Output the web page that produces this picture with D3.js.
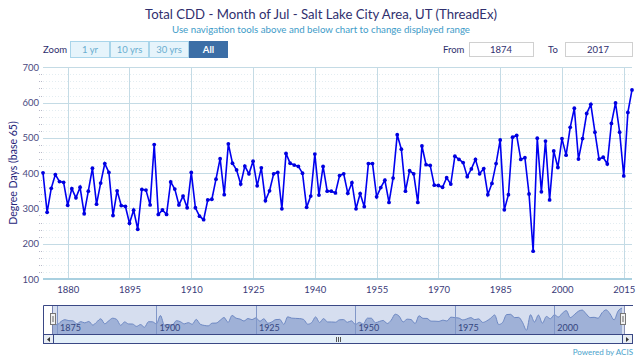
<!DOCTYPE html>
<html><head><meta charset="utf-8">
<script src="https://cdn.jsdelivr.net/npm/d3@7"></script>
<style>
html,body{margin:0;padding:0;background:#fff;}
svg{display:block;font-family:Lato,"Liberation Sans",sans-serif;}
</style></head>
<body>
<svg id="c" width="640" height="359"></svg>
<script>
const startYear = 1874;
const cdd = [401,289,357,396,376,374,309,356,330,360,285,349,414,312,372,427,402,280,350,308,
306,258,295,241,354,352,310,481,283,296,283,375,355,310,335,302,402,302,278,268,
324,326,383,441,339,483,428,409,369,420,398,434,364,415,322,350,398,402,299,456,
428,423,419,400,303,335,454,338,419,349,349,344,393,398,343,373,299,342,305,427,
427,333,359,380,317,386,509,468,349,407,398,317,477,424,422,366,365,360,387,369,
448,439,430,390,412,439,398,413,339,371,427,494,296,339,502,507,439,444,341,179,
499,347,491,324,463,416,498,451,530,584,440,498,569,595,516,440,445,426,541,599,
516,392,572,636];
const years = cdd.map((d,i)=>startYear+i);
const xTicks = [1880,1895,1910,1925,1940,1955,1970,1985,2000,2015];
const yTicks = [100,200,300,400,500,600,700];
const navTicks = [1875,1900,1925,1950,1975,2000];
const zoomButtons = ["1 yr","10 yrs","30 yrs","All"];
const titleText = "Total CDD - Month of Jul - Salt Lake City Area, UT (ThreadEx)";
const subtitleText = "Use navigation tools above and below chart to change displayed range";

const data = years.map((y,i)=>({year:y, v:cdd[i]}));
const svg = d3.select("#c");

// Title
svg.append("text").attr("x",321).attr("y",19).attr("text-anchor","middle")
  .attr("font-size",13).attr("fill","#2f2f6e")
  .attr("textLength",352).attr("lengthAdjust","spacingAndGlyphs").text(titleText);
svg.append("text").attr("x",321).attr("y",33).attr("text-anchor","middle")
  .attr("font-size",9.5).attr("fill","#3e9bc8")
  .attr("textLength",298).attr("lengthAdjust","spacingAndGlyphs").text(subtitleText);

// Zoom buttons
svg.append("text").attr("x",43).attr("y",53).attr("font-size",9.5).attr("fill","#2f2f6e").text("Zoom");
const bx = [70,110,149,189], bw=[40,39,40,39];
zoomButtons.forEach((b,i)=>{
  const sel = i===3;
  svg.append("rect").attr("x",bx[i]+0.5).attr("y",41.5).attr("width",bw[i]-1).attr("height",16)
    .attr("fill",sel?"#3c6ea6":"#e6f4fb").attr("stroke",sel?"#3c6ea6":"#a9d5ea");
  svg.append("text").attr("x",bx[i]+bw[i]/2).attr("y",53).attr("text-anchor","middle")
    .attr("font-size",9.5).attr("font-weight",sel?"bold":"normal")
    .attr("fill",sel?"#ffffff":"#6aaed0").text(b);
});
// From / To
svg.append("text").attr("x",443).attr("y",53).attr("font-size",9.5).attr("fill","#2f2f6e").text("From");
svg.append("rect").attr("x",469.5).attr("y",42.5).attr("width",64).attr("height",14).attr("fill","#fff").attr("stroke","#d0d0d0");
svg.append("text").attr("x",501).attr("y",53).attr("text-anchor","middle").attr("font-size",9.5).attr("fill","#2f2f6e").text(years[0]);
svg.append("text").attr("x",548).attr("y",53).attr("font-size",9.5).attr("fill","#2f2f6e").text("To");
svg.append("rect").attr("x",565.5).attr("y",42.5).attr("width",67).attr("height",14).attr("fill","#fff").attr("stroke","#d0d0d0");
svg.append("text").attr("x",598).attr("y",53).attr("text-anchor","middle").attr("font-size",9.5).attr("fill","#2f2f6e").text(years[years.length-1]);

// Scales
const x = d3.scaleLinear().domain([startYear, years[years.length-1]]).range([43,632]);
const y = d3.scaleLinear().domain([100,700]).range([279,67.3]);

// Minor grid
const minor = d3.range(100,700,20).filter(v=>v%100!==0);
svg.append("g").selectAll("line").data(minor).join("line")
  .attr("x1",43).attr("x2",632).attr("y1",d=>Math.round(y(d))+0.5).attr("y2",d=>Math.round(y(d))+0.5)
  .attr("stroke","#e3edf1").attr("stroke-dasharray","1,2");
svg.append("g").selectAll("line").data(minor).join("line")
  .attr("x1",39).attr("x2",42).attr("y1",d=>Math.round(y(d))+0.5).attr("y2",d=>Math.round(y(d))+0.5)
  .attr("stroke","#b8b8c8").attr("stroke-dasharray","1,1");

// Major grid horizontal
svg.append("g").selectAll("line").data(yTicks.filter(d=>d!==100)).join("line")
  .attr("x1",43).attr("x2",632).attr("y1",d=>Math.round(y(d))+0.5).attr("y2",d=>Math.round(y(d))+0.5)
  .attr("stroke","#c4dbe5");
// vertical grid
svg.append("g").selectAll("line").data(xTicks).join("line")
  .attr("x1",d=>Math.round(x(d))+0.5).attr("x2",d=>Math.round(x(d))+0.5).attr("y1",67).attr("y2",279)
  .attr("stroke","#c4dbe5");

// Y axis
const yAxis = svg.append("g").attr("transform","translate(41,0)")
  .call(d3.axisLeft(y).tickValues(yTicks).tickSize(0).tickPadding(2));
yAxis.select(".domain").remove();
yAxis.selectAll("text").attr("font-size",9.5).attr("fill","#4a4a80").attr("font-family","Lato,sans-serif");
svg.append("text").attr("transform","translate(17,173) rotate(-90)").attr("text-anchor","middle")
  .attr("font-size",10.5).attr("fill","#25257a").text("Degree Days (base 65)");

// X axis
svg.append("line").attr("x1",43).attr("x2",632).attr("y1",279).attr("y2",279).attr("stroke","#a9d0e0").attr("stroke-width",2);
const xAxis = svg.append("g").attr("transform","translate(0,280)")
  .call(d3.axisBottom(x).tickValues(xTicks).tickFormat(d3.format("d")).tickSize(0).tickPadding(6));
xAxis.select(".domain").remove();
xAxis.selectAll("text").attr("font-size",9.5).attr("fill","#3a3a78").attr("font-family","Lato,sans-serif");

// Series
const line = d3.line().x(d=>x(d.year)).y(d=>y(d.v));
svg.append("path").datum(data).attr("d",line).attr("fill","none").attr("stroke","#0000f0").attr("stroke-width",1.6);
svg.append("g").selectAll("circle").data(data).join("circle")
  .attr("cx",d=>x(d.year)).attr("cy",d=>y(d.v)).attr("r",1.9).attr("fill","#0000e0");

// Navigator
const xn = d3.scaleLinear().domain([startYear, years[years.length-1]]).range([53,622]);
const yn = d3.scaleLinear().domain([100,700]).range([334,305]);
svg.append("rect").attr("x",52).attr("y",305).attr("width",572).attr("height",29).attr("fill","#d6deef");
const area = d3.area().curve(d3.curveMonotoneX).x(d=>xn(d.year)).y0(334).y1(d=>yn(d.v));
svg.append("path").datum(data).attr("d",area).attr("fill","#9fb1d7");
svg.append("path").datum(data).attr("d",area.lineY1()).attr("fill","none").attr("stroke","#6d88c3").attr("stroke-width",1);
svg.append("g").selectAll("line").data(navTicks).join("line")
  .attr("x1",d=>Math.round(xn(d))+0.5).attr("x2",d=>Math.round(xn(d))+0.5).attr("y1",305).attr("y2",334)
  .attr("stroke","#8197c8");
svg.append("g").selectAll("text").data(navTicks).join("text")
  .attr("x",d=>xn(d)+3).attr("y",331).attr("font-size",9).attr("fill","#34457e").text(d=>d);
// outline
svg.append("path").attr("d","M43.5,344 L43.5,305.5 L633,305.5").attr("fill","none").attr("stroke","#3a4885");
svg.append("line").attr("x1",52.5).attr("x2",52.5).attr("y1",305).attr("y2",334).attr("stroke","#3a4885").attr("stroke-opacity",0.6);
svg.append("line").attr("x1",624.5).attr("x2",624.5).attr("y1",305).attr("y2",334).attr("stroke","#3a4885").attr("stroke-opacity",0.6);
// handles
[50,620].forEach(hx=>{
  svg.append("rect").attr("x",hx+0.5).attr("y",313.5).attr("width",5).attr("height",11).attr("fill","#f2f2f2").attr("stroke","#777");
  svg.append("line").attr("x1",hx+3).attr("x2",hx+3).attr("y1",316).attr("y2",322).attr("stroke","#666");
});
// scrollbar
svg.append("rect").attr("x",43.5).attr("y",334.5).attr("width",589).attr("height",9).attr("fill","#e3eff9").attr("stroke","#3a4885");
svg.append("rect").attr("x",43.5).attr("y",334.5).attr("width",10).attr("height",9).attr("fill","#e8edf3").attr("stroke","#3a4885");
svg.append("rect").attr("x",622.5).attr("y",334.5).attr("width",10).attr("height",9).attr("fill","#e8edf3").attr("stroke","#3a4885");
svg.append("path").attr("d","M50,337 L50,342 L47,339.5 Z").attr("fill","#333");
svg.append("path").attr("d","M626,337 L626,342 L629,339.5 Z").attr("fill","#333");
[336,338,340].forEach(gx=>svg.append("line").attr("x1",gx+0.5).attr("x2",gx+0.5).attr("y1",337).attr("y2",342).attr("stroke","#555"));

svg.append("text").attr("x",633).attr("y",355).attr("text-anchor","end").attr("font-size",8)
  .attr("fill","#4aa3cc").text("Powered by ACIS");
</script>
</body></html>
